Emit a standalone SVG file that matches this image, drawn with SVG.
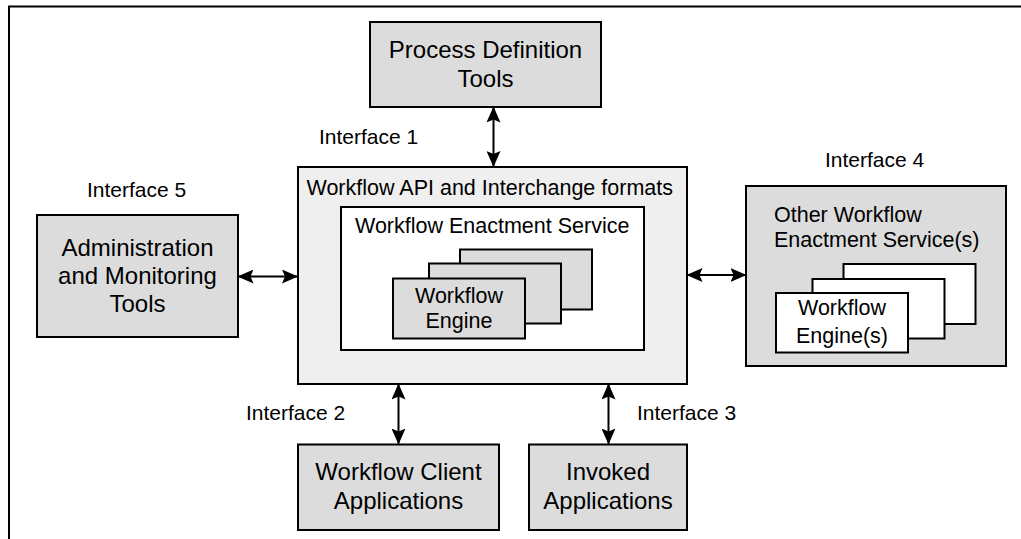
<svg xmlns="http://www.w3.org/2000/svg" width="1021" height="539" viewBox="0 0 1021 539">
<style>
.box{fill:#dcdcdc;stroke:#000;stroke-width:2}
.api{fill:#efefef;stroke:#000;stroke-width:2}
.wht{fill:#fff;stroke:#000;stroke-width:2}
.t{font-family:"Liberation Sans",Arial,sans-serif;fill:#000}
.big{font-size:24px;text-anchor:middle}
.mid{font-size:21.5px}
.lbl{font-size:21px}
.c{text-anchor:middle}
.conn{stroke:#000;stroke-width:2;fill:none;marker-start:url(#ah);marker-end:url(#ah)}
</style>
<defs>
<marker id="ah" viewBox="0 0 16 14" refX="15" refY="7" markerWidth="16" markerHeight="14" markerUnits="userSpaceOnUse" orient="auto-start-reverse">
<path d="M0,0 L16,7 L0,14 L3,7 Z" fill="#000"/>
</marker>
</defs>
<rect width="1021" height="539" fill="#fff"/>
<path d="M9,539 V6.5 H1021" fill="none" stroke="#000" stroke-width="2"/>
<g id="connectors">
<line class="conn" x1="493.5" y1="107.5" x2="493.5" y2="166"/>
<line class="conn" x1="238.5" y1="276.5" x2="297" y2="276.5"/>
<line class="conn" x1="687.5" y1="275" x2="745.5" y2="275"/>
<line class="conn" x1="398.5" y1="384.5" x2="398.5" y2="443.5"/>
<line class="conn" x1="608.5" y1="384.5" x2="608.5" y2="443.5"/>
</g>
<g id="process-definition-tools">
<rect class="box" x="370" y="22" width="231" height="85"/>
<text class="t big" x="485.5" y="58">Process Definition</text>
<text class="t big" x="485.5" y="87">Tools</text>
</g>
<g id="interface-labels">
<text class="t lbl" x="319" y="144">Interface 1</text>
<text class="t lbl" x="87" y="196.5">Interface 5</text>
<text class="t lbl" x="825" y="166.5">Interface 4</text>
<text class="t lbl" x="246" y="420">Interface 2</text>
<text class="t lbl" x="637" y="420">Interface 3</text>
</g>
<g id="workflow-api">
<rect class="api" x="298" y="167" width="389" height="217"/>
<text class="t mid" x="306.5" y="195">Workflow API and Interchange formats</text>
</g>
<g id="enactment-service">
<rect class="wht" x="341" y="207" width="303" height="143"/>
<text class="t mid" x="355" y="233">Workflow Enactment Service</text>
</g>
<g id="workflow-engine">
<rect class="box" x="460" y="249.5" width="132" height="60"/>
<rect class="box" x="429" y="263.5" width="132" height="60"/>
<rect class="box" x="393" y="278.5" width="132" height="60"/>
<text class="t mid c" x="459" y="302.5">Workflow</text>
<text class="t mid c" x="459" y="328">Engine</text>
</g>
<g id="admin-monitoring-tools">
<rect class="box" x="37" y="215" width="201" height="122"/>
<text class="t big" x="137.5" y="256">Administration</text>
<text class="t big" x="137.5" y="283.5">and Monitoring</text>
<text class="t big" x="137.5" y="311.5">Tools</text>
</g>
<g id="other-enactment-services">
<rect class="box" x="746" y="186" width="260" height="180"/>
<text class="t mid" x="774" y="221.5">Other Workflow</text>
<text class="t mid" x="774" y="246.5">Enactment Service(s)</text>
<rect class="wht" x="843.5" y="264" width="132" height="60"/>
<rect class="wht" x="812.5" y="279" width="132" height="59.5"/>
<rect class="wht" x="776" y="293" width="132" height="59.5"/>
<text class="t mid c" x="842" y="315">Workflow</text>
<text class="t mid c" x="842" y="342.5">Engine(s)</text>
</g>
<g id="workflow-client-applications">
<rect class="box" x="298" y="444.5" width="201" height="85.5"/>
<text class="t big" x="398.5" y="480">Workflow Client</text>
<text class="t big" x="398.5" y="508.5">Applications</text>
</g>
<g id="invoked-applications">
<rect class="box" x="529" y="444.5" width="158" height="85.5"/>
<text class="t big" x="608" y="480">Invoked</text>
<text class="t big" x="608" y="508.5">Applications</text>
</g>
</svg>
